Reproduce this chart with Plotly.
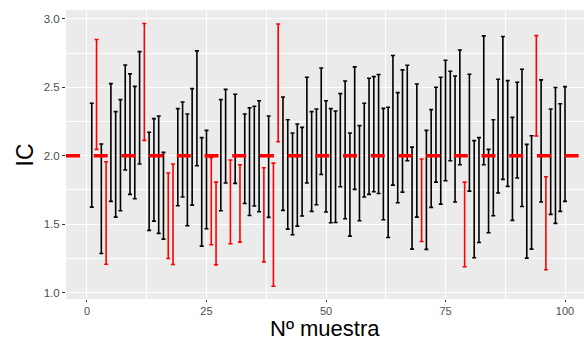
import plotly.graph_objects as go

# Confidence intervals for 100 samples (lower and upper bounds)
sample_id = list(range(1, 101))
lower = [
    1.624, 2.046, 1.285, 1.207, 1.666, 1.551, 1.598, 1.895, 1.717, 1.685,
    1.939, 2.112, 1.454, 1.522, 1.432, 1.390, 1.249, 1.205, 1.634, 1.698,
    1.488, 1.639, 1.927, 1.339, 1.466, 1.349, 1.202, 1.598, 1.800, 1.356,
    1.798, 1.368, 1.651, 1.563, 1.632, 1.590, 1.224, 1.549, 1.046, 2.102,
    1.600, 1.463, 1.422, 1.485, 1.559, 1.800, 1.593, 1.641, 1.863, 1.588,
    1.510, 1.512, 1.773, 1.539, 1.412, 1.754, 1.524, 1.698, 1.717, 1.737,
    1.724, 1.532, 1.402, 1.785, 1.656, 1.734, 1.963, 1.317, 1.551, 1.373,
    1.315, 1.622, 1.807, 1.646, 1.817, 1.963, 1.661, 1.934, 1.188, 1.741,
    1.254, 1.366, 1.934, 1.437, 1.561, 1.727, 1.827, 1.776, 1.527, 1.837,
    1.629, 1.251, 1.317, 2.144, 1.661, 1.166, 1.571, 1.505, 1.593, 1.666,
]
upper = [
    2.383, 2.849, 2.085, 1.956, 2.527, 2.322, 2.410, 2.663, 2.598, 2.507,
    2.761, 2.966, 2.171, 2.271, 2.290, 2.024, 1.873, 1.939, 2.344, 2.393,
    2.305, 2.490, 2.766, 2.132, 2.185, 1.985, 1.807, 2.410, 2.485, 1.968,
    2.449, 1.934, 2.305, 2.351, 2.361, 2.402, 1.912, 2.290, 1.946, 2.963,
    2.429, 2.263, 2.166, 2.232, 2.207, 2.573, 2.322, 2.341, 2.641, 2.402,
    2.344, 2.327, 2.454, 2.546, 2.166, 2.649, 2.220, 2.383, 2.566, 2.578,
    2.593, 2.346, 2.354, 2.732, 2.461, 2.627, 2.661, 2.063, 2.524, 1.976,
    2.185, 2.337, 2.500, 2.573, 2.698, 2.617, 2.583, 2.773, 1.807, 2.595,
    2.110, 2.132, 2.876, 2.046, 2.263, 2.559, 2.871, 2.549, 2.280, 2.537,
    2.632, 2.083, 2.146, 2.878, 2.554, 1.846, 2.341, 2.498, 2.380, 2.505,
]
true_value = 2.0

x_ticks = [0, 25, 50, 75, 100]
y_ticks = [1.0, 1.5, 2.0, 2.5, 3.0]

FONT = "Liberation Sans"

fig = go.Figure()

# Split intervals by whether they cover the true value
groups = {"#000000": [], "#FF0000": []}
for i, lo, hi in zip(sample_id, lower, upper):
    key = "#000000" if lo <= true_value <= hi else "#FF0000"
    groups[key].append((i, lo, hi))

for color, rows in groups.items():
    xs = [r[0] for r in rows]
    mids = [(r[1] + r[2]) / 2 for r in rows]
    half = [(r[2] - r[1]) / 2 for r in rows]
    fig.add_trace(go.Scatter(
        x=xs, y=mids, mode="markers",
        marker=dict(size=1, opacity=0),
        error_y=dict(type="data", array=half, symmetric=True,
                     color=color, thickness=1.6, width=2),
        showlegend=False, hoverinfo="skip",
    ))

# Reference line at the true value
fig.add_shape(type="line", xref="paper", x0=0, x1=1, yref="y",
              y0=true_value, y1=true_value, layer="above",
              line=dict(color="#FF0000", width=3.4, dash="14px,13.7px"))

axis_common = dict(
    showgrid=True, gridcolor="#FFFFFF", gridwidth=1.1,
    zeroline=False, showline=False,
    ticks="outside", tickwidth=1, tickcolor="#333333",
)

fig.update_xaxes(
    range=[-4.39, 103.97], tickmode="array", tickvals=x_ticks,
    ticktext=[str(v) for v in x_ticks], ticklen=2,
    tickfont=dict(family=FONT, size=11, color="#4D4D4D"),
    minor=dict(dtick=12.5, tick0=0, showgrid=True, gridcolor="#FFFFFF",
               gridwidth=0.55, ticks=""),
    **axis_common,
)
fig.update_yaxes(
    range=[0.9525, 3.065], tickmode="array", tickvals=y_ticks,
    ticktext=[f"{v:.1f}" for v in y_ticks], ticklen=3,
    tickfont=dict(family=FONT, size=11.5, color="#4D4D4D"),
    minor=dict(dtick=0.25, tick0=1.0, showgrid=True, gridcolor="#FFFFFF",
               gridwidth=0.55, ticks=""),
    **axis_common,
)

fig.update_layout(
    width=584, height=342,
    margin=dict(l=66, r=0, t=10, b=43),
    paper_bgcolor="#FFFFFF", plot_bgcolor="#EBEBEB",
    annotations=[
        dict(text="Nº muestra", xref="paper", yref="paper", x=0.5, y=-0.1488,
             xanchor="center", yanchor="bottom", borderpad=0, showarrow=False,
             font=dict(family=FONT, size=22, color="#000000")),
        dict(text="IC", xref="paper", yref="paper", x=-0.0792, y=0.5,
             xanchor="center", yanchor="middle", showarrow=False, textangle=-90,
             font=dict(family=FONT, size=23, color="#000000")),
    ],
)

fig.write_html("out.html")
